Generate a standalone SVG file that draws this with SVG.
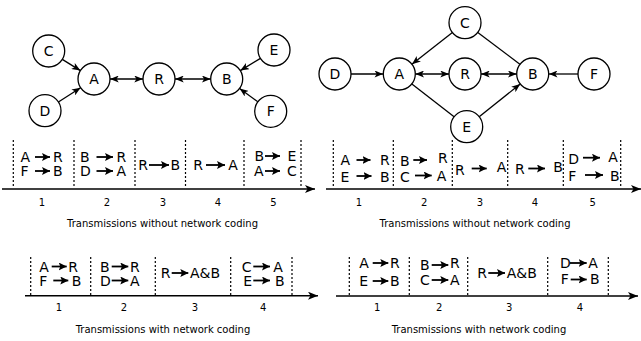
<svg xmlns="http://www.w3.org/2000/svg" width="641" height="341" viewBox="0 0 641 341">
<defs>
<style>
.n circle{fill:#fff;stroke:#000;stroke-width:1.3}
.n text{font-family:"DejaVu Sans",sans-serif;font-size:14px;text-anchor:middle;fill:#000}
.e{stroke:#000;stroke-width:1.3;fill:none}
.ax{stroke:#000;stroke-width:1.5;fill:none}
.dl{stroke:#000;stroke-width:1.2;stroke-dasharray:2,2}
.t{font-family:"DejaVu Sans",sans-serif;font-size:14px;fill:#000}
.num{font-family:"DejaVu Sans",sans-serif;font-size:10px;fill:#000;text-anchor:middle}
.cap{font-family:"DejaVu Sans",sans-serif;font-size:10px;fill:#000;text-anchor:middle}
.ta{stroke:#000;stroke-width:1.8}
</style>
<marker id="ah" viewBox="0 0 10 8" refX="10" refY="4" markerWidth="9" markerHeight="7" markerUnits="userSpaceOnUse" orient="auto-start-reverse">
<path d="M0,0 L10,4 L0,8 L2.5,4 z" fill="#000"/>
</marker>
<marker id="axh" viewBox="0 0 10 8" refX="10" refY="4" markerWidth="11" markerHeight="8" markerUnits="userSpaceOnUse" orient="auto">
<path d="M0,0 L10,4 L0,8 L2.5,4 z" fill="#000"/>
</marker>
<marker id="sh" viewBox="0 0 10 10" refX="10" refY="5" markerWidth="8" markerHeight="8" markerUnits="userSpaceOnUse" orient="auto">
<path d="M0,0 L10,5 L0,10 L2,5 z" fill="#000"/>
</marker>
</defs>

<!-- Left graph connectors -->
<g id="edges-left">
<line class="e" x1="62.3" y1="59.4" x2="80.4" y2="70.6" marker-end="url(#ah)"/>
<line class="e" x1="58.4" y1="102" x2="80.6" y2="87.7" marker-end="url(#ah)"/>
<line class="e" x1="110" y1="79" x2="143" y2="79" marker-start="url(#ah)" marker-end="url(#ah)"/>
<line class="e" x1="175" y1="79" x2="210.7" y2="79" marker-start="url(#ah)" marker-end="url(#ah)"/>
<line class="e" x1="260.4" y1="58.4" x2="240.3" y2="70.6" marker-end="url(#ah)"/>
<line class="e" x1="257.8" y1="101.8" x2="239.6" y2="88.5" marker-end="url(#ah)"/>
</g>
<g id="L-C" class="n"><circle cx="48.7" cy="51" r="16"/><text x="48.7" y="56">C</text></g>
<g id="L-A" class="n"><circle cx="94" cy="79" r="16"/><text x="94" y="84">A</text></g>
<g id="L-R" class="n"><circle cx="159" cy="79" r="16"/><text x="159" y="84">R</text></g>
<g id="L-B" class="n"><circle cx="226.7" cy="79" r="16"/><text x="226.7" y="84">B</text></g>
<g id="L-E" class="n"><circle cx="274" cy="50" r="16"/><text x="274" y="55">E</text></g>
<g id="L-D" class="n"><circle cx="45" cy="110.7" r="16"/><text x="45" y="115.7">D</text></g>
<g id="L-F" class="n"><circle cx="270.7" cy="111.3" r="16"/><text x="270.7" y="116.3">F</text></g>

<!-- Right graph connectors -->
<g id="edges-right">
<line class="e" x1="452.4" y1="32.5" x2="411.9" y2="64.2" marker-end="url(#ah)"/>
<line class="e" x1="477.8" y1="32.4" x2="519.9" y2="64.3"/>
<line class="e" x1="351" y1="74" x2="383.3" y2="74" marker-end="url(#ah)"/>
<line class="e" x1="415.3" y1="74" x2="449" y2="74" marker-start="url(#ah)" marker-end="url(#ah)"/>
<line class="e" x1="481" y1="74" x2="516.7" y2="74" marker-start="url(#ah)" marker-end="url(#ah)"/>
<line class="e" x1="578" y1="74" x2="548.7" y2="74" marker-end="url(#ah)"/>
<line class="e" x1="411.9" y1="83.9" x2="454.1" y2="116.8"/>
<line class="e" x1="479.2" y1="116.7" x2="520.2" y2="84" marker-end="url(#ah)"/>
</g>
<g id="R-C" class="n"><circle cx="465" cy="22.7" r="16"/><text x="465" y="27.7">C</text></g>
<g id="R-D" class="n"><circle cx="335" cy="74" r="16"/><text x="335" y="79">D</text></g>
<g id="R-A" class="n"><circle cx="399.3" cy="74" r="16"/><text x="399.3" y="79">A</text></g>
<g id="R-R" class="n"><circle cx="465" cy="74" r="16"/><text x="465" y="79">R</text></g>
<g id="R-B" class="n"><circle cx="532.7" cy="74" r="16"/><text x="532.7" y="79">B</text></g>
<g id="R-F" class="n"><circle cx="594" cy="74" r="16"/><text x="594" y="79">F</text></g>
<g id="R-E" class="n"><circle cx="466.7" cy="126.7" r="16"/><text x="466.7" y="131.7">E</text></g>

<!-- Timeline top-left -->
<g id="tl1">
<line class="ax" x1="2" y1="189" x2="315" y2="189" marker-end="url(#axh)"/>
<line class="dl" x1="13.3" y1="140" x2="13.3" y2="187"/>
<line class="dl" x1="74" y1="140" x2="74" y2="187"/>
<line class="dl" x1="135" y1="140" x2="135" y2="187"/>
<line class="dl" x1="185.5" y1="140" x2="185.5" y2="187"/>
<line class="dl" x1="244" y1="140" x2="244" y2="187"/>
<line class="dl" x1="301" y1="140" x2="301" y2="187"/>
<line class="ta" x1="35" y1="157" x2="50" y2="157" marker-end="url(#sh)"/>
<line class="ta" x1="35" y1="171" x2="50" y2="171" marker-end="url(#sh)"/>
<text class="t"><tspan x="20.5" y="162">A</tspan><tspan x="53" y="162">R</tspan><tspan x="20.5" y="176">F</tspan><tspan x="53" y="176">B</tspan></text>
<line class="ta" x1="96.5" y1="157" x2="113" y2="157" marker-end="url(#sh)"/>
<line class="ta" x1="96.5" y1="171" x2="113" y2="171" marker-end="url(#sh)"/>
<text class="t"><tspan x="80" y="162">B</tspan><tspan x="116.5" y="162">R</tspan><tspan x="80" y="176">D</tspan><tspan x="116.5" y="176">A</tspan></text>
<line class="ta" x1="149" y1="165" x2="169" y2="165" marker-end="url(#sh)"/>
<text class="t"><tspan x="138.3" y="170">R</tspan><tspan x="170.5" y="170">B</tspan></text>
<line class="ta" x1="206" y1="165" x2="225" y2="165" marker-end="url(#sh)"/>
<text class="t"><tspan x="193.3" y="170">R</tspan><tspan x="228.3" y="170">A</tspan></text>
<line class="ta" x1="265" y1="156" x2="280" y2="156" marker-end="url(#sh)"/>
<line class="ta" x1="265" y1="171" x2="280" y2="171" marker-end="url(#sh)"/>
<text class="t"><tspan x="254.5" y="161">B</tspan><tspan x="287.5" y="161">E</tspan><tspan x="254" y="176">A</tspan><tspan x="287" y="176">C</tspan></text>
<text class="num" x="42" y="206">1</text>
<text class="num" x="107" y="206">2</text>
<text class="num" x="163" y="206">3</text>
<text class="num" x="218" y="206">4</text>
<text class="num" x="273.5" y="206">5</text>
<text class="cap" x="162.5" y="226.5">Transmissions without network coding</text>
</g>

<!-- Timeline top-right -->
<g id="tl2">
<line class="ax" x1="326" y1="189" x2="641" y2="189" marker-end="url(#axh)"/>
<line class="dl" x1="333.3" y1="140" x2="333.3" y2="187"/>
<line class="dl" x1="393.3" y1="140" x2="393.3" y2="187"/>
<line class="dl" x1="452.3" y1="140" x2="452.3" y2="187"/>
<line class="dl" x1="507.7" y1="140" x2="507.7" y2="187"/>
<line class="dl" x1="563.3" y1="140" x2="563.3" y2="187"/>
<line class="dl" x1="620.7" y1="140" x2="620.7" y2="187"/>
<line class="ta" x1="356.5" y1="160" x2="370.5" y2="160" marker-end="url(#sh)"/>
<line class="ta" x1="356.5" y1="176" x2="371.5" y2="176" marker-end="url(#sh)"/>
<text class="t"><tspan x="340.5" y="165">A</tspan><tspan x="380" y="165">R</tspan><tspan x="340.5" y="181.5">E</tspan><tspan x="380" y="181.5">B</tspan></text>
<line class="ta" x1="413.3" y1="160" x2="427" y2="160" marker-end="url(#sh)"/>
<line class="ta" x1="415" y1="175.5" x2="431.7" y2="175.5" marker-end="url(#sh)"/>
<text class="t"><tspan x="400" y="165.5">B</tspan><tspan x="438" y="163">R</tspan><tspan x="400" y="181.5">C</tspan><tspan x="436.7" y="181">A</tspan></text>
<line class="ta" x1="471.7" y1="168.5" x2="486.7" y2="168.5" marker-end="url(#sh)"/>
<text class="t"><tspan x="455" y="174.5">R</tspan><tspan x="496.7" y="172">A</tspan></text>
<line class="ta" x1="528.3" y1="168.5" x2="545" y2="168.5" marker-end="url(#sh)"/>
<text class="t"><tspan x="515" y="174">R</tspan><tspan x="553.3" y="172">B</tspan></text>
<line class="ta" x1="583" y1="157.7" x2="600" y2="157.7" marker-end="url(#sh)"/>
<line class="ta" x1="585" y1="175" x2="603" y2="175" marker-end="url(#sh)"/>
<text class="t"><tspan x="568.3" y="164.3">D</tspan><tspan x="608.3" y="162.3">A</tspan><tspan x="568.3" y="181">F</tspan><tspan x="610" y="181">B</tspan></text>
<text class="num" x="359" y="206">1</text>
<text class="num" x="424.3" y="206">2</text>
<text class="num" x="480" y="206">3</text>
<text class="num" x="535" y="206">4</text>
<text class="num" x="592.7" y="206">5</text>
<text class="cap" x="475" y="226.5">Transmissions without network coding</text>
</g>

<!-- Timeline bottom-left -->
<g id="tl3">
<line class="ax" x1="25" y1="295.7" x2="318" y2="295.7" marker-end="url(#axh)"/>
<line class="dl" x1="30.7" y1="257" x2="30.7" y2="295"/>
<line class="dl" x1="90.7" y1="257" x2="90.7" y2="295"/>
<line class="dl" x1="155.3" y1="257" x2="155.3" y2="295"/>
<line class="dl" x1="230.7" y1="257" x2="230.7" y2="295"/>
<line class="dl" x1="292" y1="257" x2="292" y2="295"/>
<line class="ta" x1="51.7" y1="266.5" x2="66.7" y2="266.5" marker-end="url(#sh)"/>
<line class="ta" x1="53.3" y1="280.5" x2="68.3" y2="280.5" marker-end="url(#sh)"/>
<text class="t"><tspan x="39.3" y="271.7">A</tspan><tspan x="68.3" y="271.7">R</tspan><tspan x="39.3" y="285.7">F</tspan><tspan x="71.7" y="285.7">B</tspan></text>
<line class="ta" x1="111.7" y1="266.5" x2="128.3" y2="266.5" marker-end="url(#sh)"/>
<line class="ta" x1="111.7" y1="280.5" x2="128.3" y2="280.5" marker-end="url(#sh)"/>
<text class="t"><tspan x="100" y="271.7">B</tspan><tspan x="130" y="271.7">R</tspan><tspan x="100" y="285.7">D</tspan><tspan x="130" y="285.7">A</tspan></text>
<line class="ta" x1="171.7" y1="273" x2="188.3" y2="273" marker-end="url(#sh)"/>
<text class="t"><tspan x="160.7" y="278">R</tspan><tspan x="190" y="278">A&amp;B</tspan></text>
<line class="ta" x1="253.3" y1="266.5" x2="270" y2="266.5" marker-end="url(#sh)"/>
<line class="ta" x1="253.3" y1="280.5" x2="270" y2="280.5" marker-end="url(#sh)"/>
<text class="t"><tspan x="241.7" y="271.7">C</tspan><tspan x="273.3" y="271.7">A</tspan><tspan x="243.3" y="285.7">E</tspan><tspan x="275" y="285.7">B</tspan></text>
<text class="num" x="59" y="311">1</text>
<text class="num" x="124" y="311">2</text>
<text class="num" x="195" y="311">3</text>
<text class="num" x="263.3" y="311">4</text>
<text class="cap" x="163" y="333">Transmissions with network coding</text>
</g>

<!-- Timeline bottom-right -->
<g id="tl4">
<line class="ax" x1="336" y1="296" x2="638" y2="296" marker-end="url(#axh)"/>
<line class="dl" x1="349.3" y1="257" x2="349.3" y2="295"/>
<line class="dl" x1="409.3" y1="257" x2="409.3" y2="295"/>
<line class="dl" x1="467.7" y1="257" x2="467.7" y2="295"/>
<line class="dl" x1="547.7" y1="257" x2="547.7" y2="295"/>
<line class="dl" x1="608.3" y1="257" x2="608.3" y2="295"/>
<line class="ta" x1="372.7" y1="263" x2="388.3" y2="263" marker-end="url(#sh)"/>
<line class="ta" x1="372.7" y1="281" x2="388.3" y2="281" marker-end="url(#sh)"/>
<text class="t"><tspan x="359.3" y="268">A</tspan><tspan x="390" y="268">R</tspan><tspan x="359.3" y="286">E</tspan><tspan x="390" y="286">B</tspan></text>
<line class="ta" x1="431.7" y1="265" x2="448.3" y2="265" marker-end="url(#sh)"/>
<line class="ta" x1="431.7" y1="280" x2="448.3" y2="280" marker-end="url(#sh)"/>
<text class="t"><tspan x="420" y="270">B</tspan><tspan x="450" y="268">R</tspan><tspan x="420" y="285">C</tspan><tspan x="450" y="285">A</tspan></text>
<line class="ta" x1="488.3" y1="273" x2="505" y2="273" marker-end="url(#sh)"/>
<text class="t"><tspan x="477.3" y="278">R</tspan><tspan x="506.7" y="278">A&amp;B</tspan></text>
<line class="ta" x1="570" y1="263" x2="586.7" y2="263" marker-end="url(#sh)"/>
<line class="ta" x1="570.7" y1="279.5" x2="586.7" y2="279.5" marker-end="url(#sh)"/>
<text class="t"><tspan x="560" y="268.3">D</tspan><tspan x="588.3" y="268.3">A</tspan><tspan x="560.7" y="284.3">F</tspan><tspan x="590" y="284.3">B</tspan></text>
<text class="num" x="377.3" y="311">1</text>
<text class="num" x="439.3" y="311">2</text>
<text class="num" x="509.3" y="311">3</text>
<text class="num" x="580" y="311">4</text>
<text class="cap" x="479" y="333">Transmissions with network coding</text>
</g>
</svg>
